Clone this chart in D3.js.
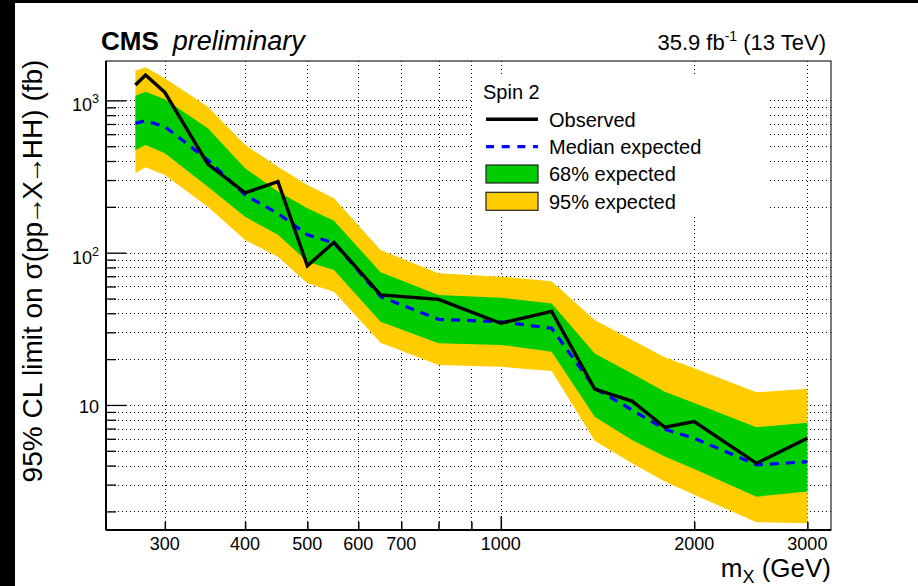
<!DOCTYPE html>
<html><head><meta charset="utf-8">
<script src="https://cdn.jsdelivr.net/npm/d3@7"></script>
<style>body{margin:0;background:#fff} text{font-family:"Liberation Sans",Arial,Helvetica,sans-serif;fill:#000}</style>
</head><body><svg id="c" width="918" height="586"></svg>
<script>
// ---- data ----
const mass     = [270, 280, 300, 350, 400, 450, 500, 550, 650, 800, 1000, 1200, 1400, 1600, 1800, 2000, 2500, 3000];
const observed = [1262, 1468, 1130, 382, 247, 293, 82, 117, 52.8, 49.4, 34.4, 41.2, 12.7, 10.6, 7.14, 7.77, 4.14, 6.05];
const expected = [707, 735, 672, 406, 239, 181, 131, 116, 51.4, 36.5, 35.2, 31.9, 12.9, 9.27, 6.92, 6.05, 4.04, 4.24];
const plus1    = [1074, 1141, 1017, 656, 358, 252, 196, 162, 74.3, 52.8, 50.6, 46.4, 21.8, 16.1, 12.2, 10.3, 7.14, 7.65];
const minus1   = [472, 510, 449, 271, 172, 131, 87.3, 77, 35.2, 25.4, 24.8, 22.4, 8.38, 5.89, 4.58, 3.80, 2.50, 2.70];
const plus2    = [1567, 1650, 1397, 909, 510, 367, 278, 228, 104, 73.2, 69.6, 64.9, 36.1, 26.7, 20.6, 17.4, 12.1, 12.8];
const minus2   = [332, 364, 324, 200, 121, 94, 63, 55.4, 25.6, 18.3, 17.8, 16.7, 5.83, 4.14, 3.14, 2.57, 1.70, 1.67];
const xTickLabels = [300, 400, 500, 600, 700, 1000, 2000, 3000];
const xMinorTicks = [300, 400, 500, 600, 700, 800, 900, 2000, 3000];
const xMajorTicks = [1000];
const yMajorTicks = [10, 100, 1000];
const yTickExp    = ["", "2", "3"];
const legendLabels = ["Observed", "Median expected", "68% expected", "95% expected"];

const rows = mass.map((m,i)=>({m, obs:observed[i], exp:expected[i], p1:plus1[i], m1:minus1[i], p2:plus2[i], m2:minus2[i]}));

const L=106, R=831, T=61, B=530;
const svg = d3.select("#c");
const x = d3.scaleLog().domain([243, 3265]).range([L, R]);
const y = d3.scaleLog().domain([1.51, 1814]).range([B, T]);
const px = v => Math.round(v)+0.5;

svg.append("rect").attr("width",918).attr("height",586).attr("fill","#fff");
svg.append("rect").attr("x",0).attr("y",0).attr("width",15).attr("height",586).attr("fill","#000");
svg.append("rect").attr("x",0).attr("y",0).attr("width",918).attr("height",3).attr("fill","#000");

// grid
const yGrid = [];
[1,10,100,1000].forEach(d=>{ for(let k=1;k<10;k++){ const v=d*k; if(v>1.51 && v<1814) yGrid.push(v);} });
const xGrid = xMinorTicks.concat(xMajorTicks);
const g = svg.append("g").attr("stroke","#000").attr("stroke-width",1).attr("stroke-dasharray","1,3").attr("shape-rendering","crispEdges");
g.selectAll(".gx").data(xGrid).join("line").attr("x1",d=>px(x(d))).attr("x2",d=>px(x(d))).attr("y1",T).attr("y2",B);
g.selectAll(".gy").data(yGrid).join("line").attr("y1",d=>px(y(d))).attr("y2",d=>px(y(d))).attr("x1",L).attr("x2",R);

// bands
const area2 = d3.area().x(d=>x(d.m)).y0(d=>y(d.m2)).y1(d=>y(d.p2));
const area1 = d3.area().x(d=>x(d.m)).y0(d=>y(d.m1)).y1(d=>y(d.p1));
svg.append("path").datum(rows).attr("d",area2).attr("fill","#ffcc00");
svg.append("path").datum(rows).attr("d",area1).attr("fill","#00cc00");
svg.append("path").datum(rows).attr("d",d3.line().x(d=>x(d.m)).y(d=>y(d.exp)))
  .attr("fill","none").attr("stroke","#0000ff").attr("stroke-width",3.2).attr("stroke-dasharray","9,7");
svg.append("path").datum(rows).attr("d",d3.line().x(d=>x(d.m)).y(d=>y(d.obs)))
  .attr("fill","none").attr("stroke","#000").attr("stroke-width",3.4).attr("stroke-linejoin","miter");

// legend
svg.append("rect").attr("x",472).attr("y",77).attr("width",296).attr("height",138).attr("fill","#fff");
svg.append("text").attr("x",483).attr("y",99).attr("font-size",20).text("Spin 2");
const ly = [119.3, 146.7, 174, 201.3];
svg.append("line").attr("x1",486).attr("x2",538).attr("y1",ly[0]).attr("y2",ly[0]).attr("stroke","#000").attr("stroke-width",3.4);
svg.append("line").attr("x1",486).attr("x2",538).attr("y1",ly[1]).attr("y2",ly[1]).attr("stroke","#0000ff").attr("stroke-width",3.2).attr("stroke-dasharray","8,7.7");
svg.append("rect").attr("x",486).attr("y",ly[2]-9).attr("width",52).attr("height",18).attr("fill","#00cc00").attr("stroke","#222").attr("stroke-width",1.2);
svg.append("rect").attr("x",486).attr("y",ly[3]-9).attr("width",52).attr("height",18).attr("fill","#ffcc00").attr("stroke","#222").attr("stroke-width",1.2);
legendLabels.forEach((t,i)=>svg.append("text").attr("x",549).attr("y",ly[i]+7.2).attr("font-size",20).text(t));

// axes ticks (inward)
svg.append("g").attr("transform",`translate(0,${B})`)
  .call(d3.axisBottom(x).tickValues(xMinorTicks).tickSize(-8).tickFormat(""))
  .call(a=>{a.select(".domain").remove(); a.selectAll("line").attr("stroke","#000").attr("stroke-width",1.5);});
svg.append("g").attr("transform",`translate(0,${B})`)
  .call(d3.axisBottom(x).tickValues(xMajorTicks).tickSize(-14).tickFormat(""))
  .call(a=>{a.select(".domain").remove(); a.selectAll("line").attr("stroke","#000").attr("stroke-width",1.5);});
svg.append("g").attr("transform",`translate(${L},0)`)
  .call(d3.axisLeft(y).tickValues(yGrid.filter(v=>!yMajorTicks.includes(v))).tickSize(-10).tickFormat(""))
  .call(a=>{a.select(".domain").remove(); a.selectAll("line").attr("stroke","#000").attr("stroke-width",1.3);});
svg.append("g").attr("transform",`translate(${L},0)`)
  .call(d3.axisLeft(y).tickValues(yMajorTicks).tickSize(-20).tickFormat(""))
  .call(a=>{a.select(".domain").remove(); a.selectAll("line").attr("stroke","#000").attr("stroke-width",1.3);});

// frame
svg.append("rect").attr("x",L).attr("y",T).attr("width",R-L).attr("height",B-T).attr("fill","none").attr("stroke","#333").attr("stroke-width",1.3);
svg.append("line").attr("x1",L).attr("x2",R).attr("y1",B).attr("y2",B).attr("stroke","#000").attr("stroke-width",2);
svg.append("line").attr("x1",L).attr("x2",L).attr("y1",T).attr("y2",B).attr("stroke","#000").attr("stroke-width",2);

// tick labels
xTickLabels.forEach(v=>svg.append("text").attr("x",x(v)).attr("y",550).attr("text-anchor","middle").attr("font-size",18).text(v));
yMajorTicks.forEach((v,i)=>{
  const t = svg.append("text").attr("x",99).attr("y",y(v)+(yTickExp[i]?11:8)).attr("text-anchor","end").attr("font-size",18);
  t.append("tspan").text("10");
  if(yTickExp[i]) t.append("tspan").attr("font-size",12.5).attr("dy",-8).text(yTickExp[i]);
});

// titles
const cms = svg.append("text").attr("x",101).attr("y",50).attr("font-size",26);
cms.append("tspan").attr("font-weight","bold").text("CMS");
cms.append("tspan").attr("font-style","italic").attr("font-size",27).attr("dx",14).text("preliminary");
const lumi = svg.append("text").attr("x",826).attr("y",50).attr("text-anchor","end").attr("font-size",22);
lumi.append("tspan").text("35.9 fb");
lumi.append("tspan").attr("font-size",14).attr("dy",-9).text("-1");
lumi.append("tspan").attr("dy",9).text(" (13 TeV)");
const xt = svg.append("text").attr("x",831).attr("y",577).attr("text-anchor","end").attr("font-size",26);
xt.append("tspan").text("m");
xt.append("tspan").attr("font-size",18).attr("dy",6).text("X");
xt.append("tspan").attr("dy",-6).text(" (GeV)");
const yt = svg.append("text").attr("transform","translate(42,271) rotate(-90)").attr("text-anchor","middle").attr("font-size",28);
yt.append("tspan").text("95% CL limit on σ(pp");
yt.append("tspan").attr("dx",-3).text("→");
yt.append("tspan").attr("dx",-3).text("X");
yt.append("tspan").attr("dx",-3).text("→");
yt.append("tspan").attr("dx",-3).text("HH) (fb)");
</script></body></html>
